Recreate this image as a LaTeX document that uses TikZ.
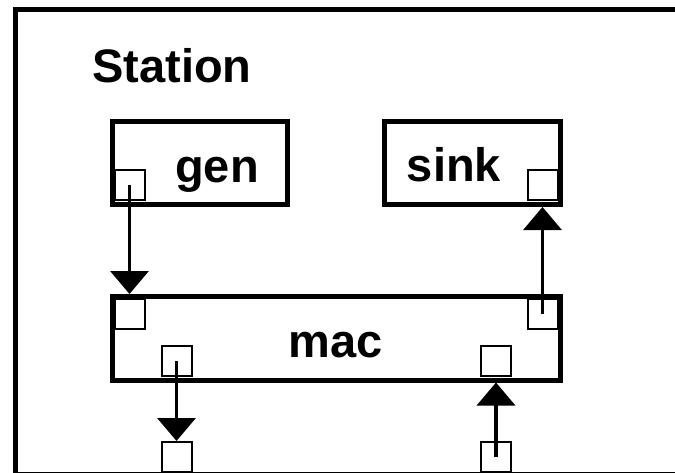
\documentclass[tikz,border=0pt]{standalone}
\usepackage{fontspec}
\setmainfont{Liberation Sans}
\usetikzlibrary{arrows.meta,positioning,calc}
\tikzset{
  every node/.style={font=\fontsize{23.5}{28}\selectfont\bfseries},
  frame/.style={draw,line width=2.5pt},
  block/.style={draw,line width=2.5pt,inner sep=0pt},
  port/.style={draw,line width=1pt,minimum size=15pt,inner sep=0pt},
  lbl/.style={anchor=base,inner sep=0pt},
  flow/.style={-{Triangle[length=11.5pt,width=19pt]},line width=1.75pt},
}

\begin{document}
\begin{tikzpicture}[x=0.5pt,y=-0.5pt]
\clip (0,0) rectangle (675,472);

% Station frame
\draw[frame] (15.5,9.5) rectangle (700,474);
\node[lbl,anchor=base west] (station) at (92,82) {Station};

% Blocks
\node[block,minimum width=87.5pt,minimum height=41.5pt] (gen) at (200,163) {};
\node[block,minimum width=87.75pt,minimum height=41.5pt] (sink) at (472.25,163) {};
\node[block,minimum width=223.75pt,minimum height=41.75pt] (mac) at (336.25,338.25) {};
\node[lbl] (gentxt) at (217,182) {gen};
\node[lbl] (sinktxt) at (454,181) {sink};
\node[lbl] (mactxt) at (335.5,357) {mac};

% Ports
\node[port] (genout) at (129.5,185) {};
\node[port] (sinkin) at (542.5,185) {};
\node[port] (macin) at (129.5,314) {};
\node[port] (macup) at (542.5,314) {};
\node[port] (macdown) at (176.5,361) {};
\node[port] (macrecv) at (496,361) {};
\node[port] (lowout) at (176.5,457) {};
\node[port] (lowin) at (496,457) {};

% Arrows
\draw[flow] (genout.center) -- (genout.center |- mac.north);
\draw[flow] (macup.center) -- (macup.center |- sink.south);
\draw[flow] (macdown.center) -- (lowout.north);
\draw[flow] (lowin.center) -- (lowin.center |- mac.south);

\end{tikzpicture}
\end{document}
